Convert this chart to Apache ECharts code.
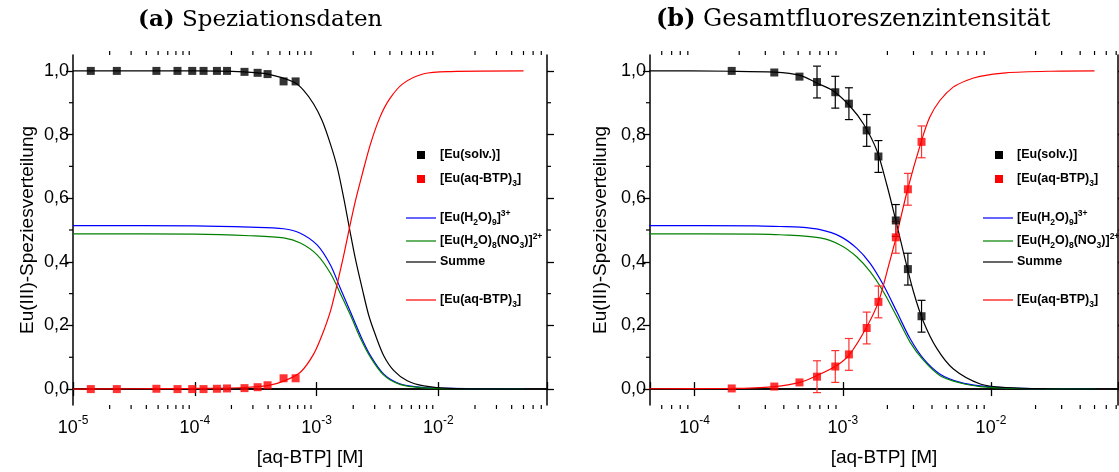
<!DOCTYPE html>
<html><head><meta charset="utf-8">
<script src="https://cdn.jsdelivr.net/npm/echarts@6/dist/echarts.min.js"></script>
<style>html,body{margin:0;padding:0;background:#fff}#c{width:1119px;height:472px}</style>
</head><body><div id="c"></div>
<script>
// ---------- DATA ----------
// Panel (a): measured points
const concA = [1.40e-5,2.29e-5,4.84e-5,7.21e-5,9.53e-5,1.18e-4,1.52e-4,1.84e-4,2.56e-4,3.28e-4,3.96e-4,5.36e-4,6.73e-4];
const solvA = [1.0,1.0,1.0,1.0,1.0,1.0,1.0,1.0,0.997,0.994,0.99,0.967,0.967];
const btpA  = [0,0,0.001,0,0,0,0.001,0.002,0.003,0.006,0.012,0.034,0.034];
// Panel (a): model curves [conc, fraction]
const blueA = [[1e-5,0.514],[1e-4,0.513],[2.85e-4,0.509],[5.37e-4,0.504],[7.36e-4,0.490],[1.01e-3,0.453],[1.30e-3,0.390],[1.57e-3,0.316],[1.90e-3,0.242],[2.29e-3,0.169],[2.77e-3,0.105],[3.56e-3,0.047],[4.89e-3,0.016],[7.60e-3,0.005],[1.26e-2,0.002],[5e-2,0]];
const greenA = [[1e-5,0.488],[1e-4,0.487],[2.85e-4,0.482],[5.37e-4,0.475],[7.36e-4,0.459],[1.01e-3,0.422],[1.30e-3,0.364],[1.57e-3,0.300],[1.90e-3,0.232],[2.29e-3,0.160],[2.77e-3,0.100],[3.56e-3,0.044],[4.89e-3,0.014],[7.60e-3,0.004],[1.26e-2,0.001],[5e-2,0]];
const sumA = [[1e-5,1.0],[1e-4,1.0],[2.51e-4,0.997],[3.98e-4,0.99],[6.49e-4,0.965],[7.83e-4,0.939],[9.46e-4,0.896],[1.11e-3,0.844],[1.30e-3,0.77],[1.48e-3,0.696],[1.67e-3,0.601],[1.86e-3,0.506],[2.08e-3,0.411],[2.37e-3,0.316],[2.68e-3,0.232],[3.05e-3,0.169],[3.56e-3,0.105],[4.31e-3,0.058],[5.55e-3,0.026],[7.60e-3,0.010],[1.26e-2,0.002],[5e-2,0]];
const redA = [[1e-5,0],[3.16e-5,0.001],[1e-4,0.002],[2.51e-4,0.005],[3.98e-4,0.011],[5.37e-4,0.025],[7.36e-4,0.053],[9.46e-4,0.11],[1.11e-3,0.17],[1.30e-3,0.245],[1.48e-3,0.332],[1.67e-3,0.42],[1.86e-3,0.506],[2.08e-3,0.59],[2.37e-3,0.675],[2.77e-3,0.77],[3.31e-3,0.854],[3.98e-3,0.912],[5.13e-3,0.960],[7.59e-3,0.991],[1.26e-2,0.998],[5e-2,1.0]];

// Panel (b): measured points with error bars
const concB = [1.78e-4,3.45e-4,5.10e-4,6.70e-4,8.90e-4,1.10e-3,1.45e-3,1.74e-3,2.28e-3,2.75e-3,3.40e-3];
const solvB = [1.0,0.995,0.982,0.965,0.933,0.897,0.813,0.731,0.530,0.377,0.229];
const solvErrB = [0,0,0,0.05,0.05,0.05,0.05,0.05,0.05,0.05,0.05];
const btpB = [0.002,0.008,0.021,0.039,0.071,0.109,0.192,0.274,0.477,0.628,0.777];
const btpErrB = [0,0,0,0.05,0.05,0.05,0.05,0.05,0.05,0.05,0.05];
// Panel (b): model curves
const blueB = [[1e-5,0.514],[4.99e-5,0.514],[2.62e-4,0.513],[3.77e-4,0.511],[5.14e-4,0.509],[7.03e-4,0.501],[9.59e-4,0.480],[1.24e-3,0.443],[1.53e-3,0.395],[1.88e-3,0.327],[2.32e-3,0.242],[2.85e-3,0.158],[3.51e-3,0.095],[4.54e-3,0.047],[6.21e-3,0.021],[8.47e-3,0.010],[1.26e-2,0.004],[2.51e-2,0.001],[5e-2,0]];
const greenB = [[1e-5,0.488],[4.99e-5,0.488],[2.62e-4,0.487],[3.77e-4,0.485],[7.03e-4,0.475],[9.59e-4,0.453],[1.24e-3,0.416],[1.53e-3,0.369],[1.88e-3,0.306],[2.32e-3,0.227],[2.85e-3,0.147],[3.51e-3,0.090],[4.54e-3,0.042],[6.21e-3,0.019],[8.47e-3,0.008],[1.26e-2,0.003],[5e-2,0]];
const sumB = [[1e-5,1.0],[4.99e-5,1.0],[1.78e-4,0.999],[3.45e-4,0.996],[5.14e-4,0.986],[6.67e-4,0.962],[8.63e-4,0.937],[1.12e-3,0.889],[1.38e-3,0.833],[1.70e-3,0.749],[1.98e-3,0.643],[2.28e-3,0.530],[2.56e-3,0.432],[3.00e-3,0.306],[3.51e-3,0.211],[4.32e-3,0.127],[5.58e-3,0.063],[8.47e-3,0.016],[1.26e-2,0.005],[2.51e-2,0.001],[5e-2,0]];
const redB = [[1e-5,0],[4.99e-5,0.001],[1.78e-4,0.002],[3.45e-4,0.008],[5.14e-4,0.021],[6.67e-4,0.042],[9.10e-4,0.074],[1.12e-3,0.111],[1.45e-3,0.195],[1.74e-3,0.274],[2.03e-3,0.385],[2.29e-3,0.477],[2.74e-3,0.628],[3.38e-3,0.777],[3.86e-3,0.854],[4.52e-3,0.907],[5.56e-3,0.949],[6.84e-3,0.970],[8.43e-3,0.983],[1.26e-2,0.994],[2.51e-2,0.999],[5e-2,1.0]];

// Axis ranges & ticks
const xRangeA = [1e-5, 0.078];
const xRangeB = [5e-5, 0.072];
const yRange = [-0.05, 1.05];
const yMajor = [0, 0.2, 0.4, 0.6, 0.8, 1.0];
const yMinor = [0.1, 0.3, 0.5, 0.7, 0.9];
const xMinorA = [2e-5,3e-5,4e-5,5e-5,6e-5,7e-5,8e-5,9e-5,2e-4,3e-4,4e-4,5e-4,6e-4,7e-4,8e-4,9e-4,2e-3,3e-3,4e-3,5e-3,6e-3,7e-3,8e-3,9e-3,2e-2,3e-2,4e-2,5e-2,6e-2,7e-2];
const xMinorB = [6e-5,7e-5,8e-5,9e-5,2e-4,3e-4,4e-4,5e-4,6e-4,7e-4,8e-4,9e-4,2e-3,3e-3,4e-3,5e-3,6e-3,7e-3,8e-3,9e-3,2e-2,3e-2,4e-2,5e-2,6e-2,7e-2];

const titles = ['(a)', 'Speziationsdaten', '(b)', 'Gesamtfluoreszenzintensität'];
const xName = '[aq-BTP] [M]';
const yName = 'Eu(III)-Speziesverteilung';
const legendSym = ['[Eu(solv.)]', '[Eu(aq-BTP){s|3}]'];
const legendLines = ['[Eu(H{s|2}O){s|9}]{p|3+}', '[Eu(H{s|2}O){s|8}(NO{s|3})]{p|2+}', 'Summe', '[Eu(aq-BTP){s|3}]'];

// ---------- CHART ----------
const SANS = "'Liberation Sans', Arial, sans-serif";
const SERIF = "'DejaVu Serif', serif";
const chart = echarts.init(document.getElementById('c'));

const grids = [
  {left: 73, right: 572, top: 55, bottom: 67},
  {left: 650, right: 1, top: 55, bottom: 67}
];
const xRanges = [xRangeA, xRangeB];

function logFmt(v) {
  const e = Math.log10(v);
  if (Math.abs(e - Math.round(e)) > 1e-6) return '';
  return '10{p|' + Math.round(e) + '}';
}
const axLine = {show: true, lineStyle: {color: '#000', width: 1.5}};

const xAxes = [], yAxes = [];
[0, 1].forEach(p => {
  xAxes.push({
    type: 'log', logBase: 10, gridIndex: p, position: 'bottom',
    min: xRanges[p][0], max: xRanges[p][1],
    axisLine: axLine,
    axisTick: {show: true, length: 7, lineStyle: {color: '#000', width: 1.3}},
    axisLabel: {formatter: logFmt, color: '#000', fontFamily: SANS, fontSize: 18, margin: 10, lineHeight: 26,
      showMinLabel: p === 0, showMaxLabel: false,
      rich: {p: {fontSize: 12, fontFamily: SANS, color: '#000', verticalAlign: 'top', lineHeight: 12}}},
    splitLine: {show: false}, minorTick: {show: false},
    name: xName, nameLocation: 'middle', nameGap: 43,
    nameTextStyle: {fontFamily: SANS, fontSize: 19, color: '#000'}
  });
  xAxes.push({
    type: 'log', logBase: 10, gridIndex: p, position: 'top',
    min: xRanges[p][0], max: xRanges[p][1],
    axisLine: axLine,
    axisTick: {show: true, length: 7, lineStyle: {color: '#000', width: 1.3}},
    axisLabel: {show: false}, splitLine: {show: false}
  });
  yAxes.push({
    type: 'value', gridIndex: p, position: 'left', min: yRange[0], max: yRange[1],
    axisLine: axLine,
    axisTick: {show: true, length: 7, customValues: yMajor, lineStyle: {color: '#000', width: 1.3}},
    axisLabel: {customValues: yMajor, color: '#000', fontFamily: SANS, fontSize: 18, margin: 4,
      formatter: v => v.toFixed(1).replace('.', ',')},
    splitLine: {show: false},
    name: yName, nameLocation: 'middle', nameGap: p === 0 ? 36 : 40,
    nameTextStyle: {fontFamily: SANS, fontSize: 19, color: '#000'}
  });
  yAxes.push({
    type: 'value', gridIndex: p, position: 'right', min: yRange[0], max: yRange[1],
    axisLine: axLine,
    axisTick: {show: true, length: 7, customValues: yMajor, lineStyle: {color: '#000', width: 1.3}},
    axisLabel: {show: false}, splitLine: {show: false}
  });
});

function minorX(p, ticks) {
  return {
    type: 'custom', xAxisIndex: p * 2, yAxisIndex: p * 2, silent: true, clip: false, z: 1,
    data: ticks.map(v => [v, yRange[0]]),
    renderItem: (params, api) => {
      const x = api.value(0);
      const b = api.coord([x, yRange[0]]), t = api.coord([x, yRange[1]]);
      const st = {stroke: '#000', lineWidth: 1.2};
      return {type: 'group', children: [
        {type: 'line', shape: {x1: b[0], y1: b[1], x2: b[0], y2: b[1] + 4}, style: st},
        {type: 'line', shape: {x1: t[0], y1: t[1], x2: t[0], y2: t[1] - 4}, style: st}
      ]};
    }
  };
}
function minorY(p) {
  const xr = xRanges[p];
  return {
    type: 'custom', xAxisIndex: p * 2, yAxisIndex: p * 2, silent: true, clip: false, z: 1,
    data: yMinor.map(v => [xr[0], v]),
    renderItem: (params, api) => {
      const y = api.value(1);
      const l = api.coord([xr[0], y]), r = api.coord([xr[1], y]);
      const st = {stroke: '#000', lineWidth: 1.2};
      return {type: 'group', children: [
        {type: 'line', shape: {x1: l[0], y1: l[1], x2: l[0] - 4, y2: l[1]}, style: st},
        {type: 'line', shape: {x1: r[0], y1: r[1], x2: r[0] + 4, y2: r[1]}, style: st}
      ]};
    }
  };
}
function curve(p, data, color) {
  return {type: 'line', xAxisIndex: p * 2, yAxisIndex: p * 2, data: data, showSymbol: false,
    smooth: 0.3, silent: true, z: 2,
    lineStyle: {color: color, width: 1.2}};
}
function points(p, xs, ys, color) {
  return {type: 'scatter', xAxisIndex: p * 2, yAxisIndex: p * 2, symbol: 'rect', symbolSize: 8,
    data: xs.map((x, i) => [x, ys[i]]), itemStyle: {color: color}, z: 5, silent: true};
}
function errBars(p, xs, ys, es, color) {
  return {
    type: 'custom', xAxisIndex: p * 2, yAxisIndex: p * 2, silent: true, z: 4,
    dimensions: ['x', 'y', 'e'], encode: {x: 0, y: 1},
    data: xs.map((x, i) => [x, ys[i], es[i]]),
    renderItem: (params, api) => {
      const x = api.value(0), y = api.value(1), e = api.value(2);
      if (!e) return null;
      const lo = api.coord([x, y - e]), hi = api.coord([x, y + e]);
      const st = {stroke: color, lineWidth: 1.2};
      return {type: 'group', children: [
        {type: 'line', shape: {x1: lo[0], y1: lo[1], x2: hi[0], y2: hi[1]}, style: st},
        {type: 'line', shape: {x1: lo[0] - 4, y1: lo[1], x2: lo[0] + 4, y2: lo[1]}, style: st},
        {type: 'line', shape: {x1: hi[0] - 4, y1: hi[1], x2: hi[0] + 4, y2: hi[1]}, style: st}
      ]};
    }
  };
}

const series = [
  curve(0, blueA, '#0000ff'), curve(0, greenA, '#008000'), curve(0, sumA, '#000000'), curve(0, redA, '#ff0000'),
  points(0, concA, solvA, '#000000'), points(0, concA, btpA, '#ff0000'),
  minorX(0, xMinorA), minorY(0),
  curve(1, blueB, '#0000ff'), curve(1, greenB, '#008000'), curve(1, sumB, '#000000'), curve(1, redB, '#ff0000'),
  errBars(1, concB, solvB, solvErrB, '#000000'), errBars(1, concB, btpB, btpErrB, '#ff3030'),
  points(1, concB, solvB, '#000000'), points(1, concB, btpB, '#ff0000'),
  minorX(1, xMinorB), minorY(1)
];

// Legends (graphic)
const legRich = {
  s: {fontSize: 8.5, fontWeight: 'bold', fontFamily: SANS, verticalAlign: 'bottom', lineHeight: 9},
  p: {fontSize: 8.5, fontWeight: 'bold', fontFamily: SANS, verticalAlign: 'top', lineHeight: 9}
};
function legend(symX, textX, lineX1, lineX2) {
  const els = [];
  const symY = [155, 179], symC = ['#000', '#ff0000'];
  legendSym.forEach((t, i) => {
    els.push({type: 'rect', shape: {x: symX - 4, y: symY[i] - 4, width: 8, height: 8}, style: {fill: symC[i]}});
    els.push({type: 'text', x: textX, y: symY[i], style: {text: t, rich: legRich, fontFamily: SANS, fontWeight: 'bold',
      fontSize: 12.5, lineHeight: 18, fill: '#000', verticalAlign: 'middle', align: 'left'}});
  });
  const lineY = [218, 241, 262, 300], lineC = ['#0000ff', '#008000', '#000000', '#ff0000'];
  legendLines.forEach((t, i) => {
    els.push({type: 'line', shape: {x1: lineX1, y1: lineY[i], x2: lineX2, y2: lineY[i]}, style: {stroke: lineC[i], lineWidth: 1.2}});
    els.push({type: 'text', x: textX, y: lineY[i], style: {text: t, rich: legRich, fontFamily: SANS, fontWeight: 'bold',
      fontSize: 12.5, lineHeight: 18, fill: '#000', verticalAlign: 'middle', align: 'left'}});
  });
  return els;
}
const graphic = [].concat(legend(421, 440, 406, 436), legend(999, 1017, 983, 1013));

const titleStyleA = {fontFamily: SERIF, fontSize: 23, fontWeight: 'normal', color: '#000',
  rich: {b: {fontFamily: SERIF, fontSize: 23, fontWeight: 'bold', color: '#000'}}};
const titleStyleB = {fontFamily: SERIF, fontSize: 24, fontWeight: 'normal', color: '#000',
  rich: {b: {fontFamily: SERIF, fontSize: 24, fontWeight: 'bold', color: '#000'}}};
chart.setOption({
  animation: false,
  backgroundColor: '#fff',
  title: [
    {text: '{b|' + titles[0] + '} ' + titles[1], left: 133, top: 4, textStyle: titleStyleA},
    {text: '{b|' + titles[2] + '} ' + titles[3], left: 651, top: 3, textStyle: titleStyleB}
  ],
  grid: grids,
  xAxis: xAxes,
  yAxis: yAxes,
  series: series,
  graphic: graphic
});
</script></body></html>
